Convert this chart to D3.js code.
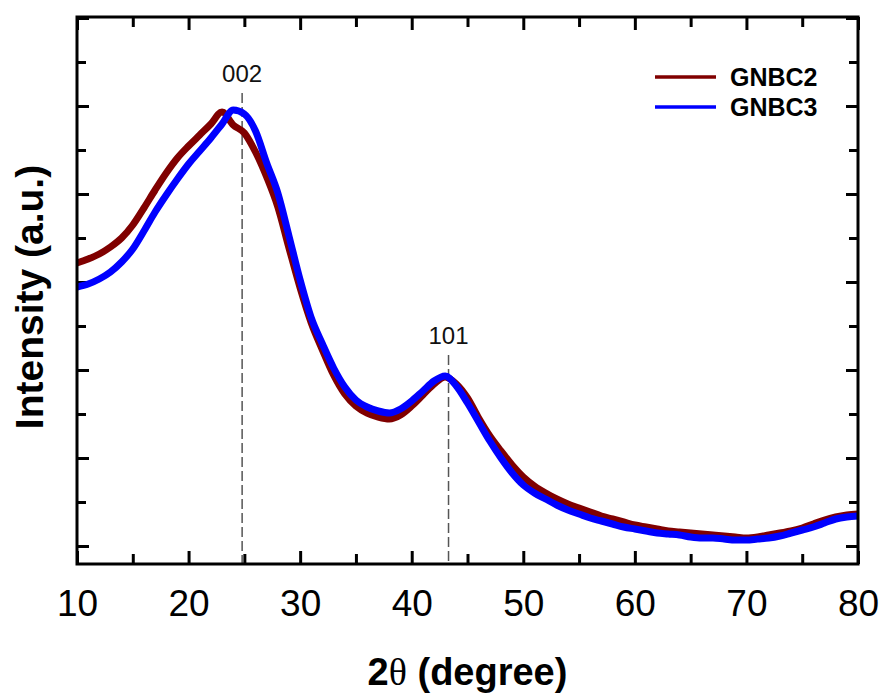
<!DOCTYPE html>
<html>
<head>
<meta charset="utf-8">
<script src="https://cdn.jsdelivr.net/npm/d3@7"></script>
<style>
  body { margin: 0; background: #fff; }
  svg { font-family: "Liberation Sans", Arial, sans-serif; }
</style>
</head>
<body>
<svg width="882" height="693"></svg>
<script>
// 2theta in degrees
var twoTheta = d3.range(10, 81);

// intensity (a.u.)
var gnbc2 = [301, 305, 310, 317, 326, 339, 356, 374, 391, 406,
             418, 429, 440, 452, 439, 431, 412, 387, 357, 316,
             276, 241, 214, 189, 170, 158, 151, 147, 145, 149,
             158, 169, 180, 187, 180, 166, 146, 128, 113, 99,
             87, 78, 71, 65, 60, 56, 52, 48, 45, 42,
             39, 37, 35, 33, 32, 31, 30, 29, 28, 27,
             26, 27, 29, 31, 33, 36, 40, 44, 47, 49, 50];
var gnbc3 = [277, 280, 285, 292, 302, 315, 333, 352, 369, 385,
             400, 413, 426, 440, 454, 450, 433, 401, 371, 328,
             284, 246, 220, 196, 177, 164, 157, 153, 151, 155,
             163, 173, 183, 188, 178, 161, 142, 123, 106, 91,
             79, 71, 65, 59, 54, 50, 46, 43, 40, 37,
             35, 33, 31, 30, 29, 27, 26, 26, 25, 24,
             24, 25, 26, 28, 31, 34, 37, 41, 45, 47, 48];

var seriesNames = ['GNBC2', 'GNBC3'];
var seriesColors = ['#800000', '#0000ff'];

// peak markers
var peakLabels = ['002', '101'];
var peakPos = [24.8, 43.3];
var peakTop = [471, 209];

var xTicks = d3.range(10, 81, 10);
var xMinor = d3.range(15, 80, 10);
var yTicks = d3.range(18, 547, 88);
var yMinor = d3.range(62, 547, 88);

var margin = {top: 17, right: 24, bottom: 129, left: 77};
var width = 882 - margin.left - margin.right,
    height = 693 - margin.top - margin.bottom;

var svg = d3.select('svg');
var g = svg.append('g')
    .attr('transform', 'translate(' + margin.left + ',' + margin.top + ')');

var x = d3.scaleLinear().domain([10, 80]).range([0, width]);
var y = d3.scaleLinear().domain([0, 547]).range([height, 0]);

function styleAxis(sel) {
    sel.select('.domain').remove();
    sel.selectAll('line').attr('stroke', '#000').attr('stroke-width', 3);
}

// bottom axis with labels
g.append('g')
    .attr('transform', 'translate(0,' + height + ')')
    .call(d3.axisBottom(x).tickValues(xTicks).tickSize(-13).tickPadding(26))
    .call(styleAxis)
    .selectAll('text')
    .attr('font-size', 37)
    .attr('font-family', '"Liberation Sans", Arial, sans-serif')
    .attr('fill', '#000');

g.append('g')
    .attr('transform', 'translate(0,' + height + ')')
    .call(d3.axisBottom(x).tickValues(xMinor).tickSize(-10).tickFormat(''))
    .call(styleAxis);

// top axis
g.append('g')
    .call(d3.axisTop(x).tickValues(xTicks).tickSize(-13).tickFormat(''))
    .call(styleAxis);
g.append('g')
    .call(d3.axisTop(x).tickValues(xMinor).tickSize(-10).tickFormat(''))
    .call(styleAxis);

// left + right axes, no labels
g.append('g')
    .call(d3.axisLeft(y).tickValues(yTicks).tickSize(-12).tickFormat(''))
    .call(styleAxis);
g.append('g')
    .call(d3.axisLeft(y).tickValues(yMinor).tickSize(-9).tickFormat(''))
    .call(styleAxis);
g.append('g')
    .attr('transform', 'translate(' + width + ',0)')
    .call(d3.axisRight(y).tickValues(yTicks).tickSize(-12).tickFormat(''))
    .call(styleAxis);
g.append('g')
    .attr('transform', 'translate(' + width + ',0)')
    .call(d3.axisRight(y).tickValues(yMinor).tickSize(-9).tickFormat(''))
    .call(styleAxis);

// peak guide lines
var peaks = peakLabels.map(function(d, i) {
    return {label: d, pos: peakPos[i], top: peakTop[i]};
});

g.selectAll('line.peak')
    .data(peaks)
    .join('line')
    .attr('class', 'peak')
    .attr('x1', function(d) { return x(d.pos); })
    .attr('x2', function(d) { return x(d.pos); })
    .attr('y1', function(d) { return y(d.top); })
    .attr('y2', height)
    .attr('stroke', '#555')
    .attr('stroke-width', 1.5)
    .attr('stroke-dasharray', '10 4');

// curves
var series = seriesNames.map(function(name, i) {
    var vals = i === 0 ? gnbc2 : gnbc3;
    return {
        name: name,
        color: seriesColors[i],
        values: twoTheta.map(function(t, j) { return {x: t, y: vals[j]}; })
    };
});

var line = d3.line()
    .x(function(d) { return x(d.x); })
    .y(function(d) { return y(d.y); })
    .curve(d3.curveMonotoneX);

g.selectAll('path.curve')
    .data(series)
    .join('path')
    .attr('class', 'curve')
    .attr('d', function(d) { return line(d.values); })
    .attr('fill', 'none')
    .attr('stroke', function(d) { return d.color; })
    .attr('stroke-width', 7)
    .attr('stroke-linejoin', 'round');

g.selectAll('text.peak')
    .data(peaks)
    .join('text')
    .attr('class', 'peak')
    .attr('x', function(d) { return x(d.pos); })
    .attr('y', function(d) { return y(d.top) - 11; })
    .attr('text-anchor', 'middle')
    .attr('font-size', 24)
    .attr('fill', '#111')
    .text(function(d) { return d.label; });

// frame
g.append('rect')
    .attr('width', width)
    .attr('height', height)
    .attr('fill', 'none')
    .attr('stroke', '#000')
    .attr('stroke-width', 3);

// legend
var legend = g.append('g').attr('transform', 'translate(578,60)');
var items = legend.selectAll('g')
    .data(series)
    .join('g')
    .attr('transform', function(d, i) { return 'translate(0,' + i * 30 + ')'; });
items.append('line')
    .attr('x1', 0).attr('x2', 61)
    .attr('stroke', function(d) { return d.color; })
    .attr('stroke-width', 3.5);
items.append('text')
    .attr('x', 75)
    .attr('y', 9)
    .attr('font-size', 25)
    .attr('font-weight', 'bold')
    .text(function(d) { return d.name; });

// axis titles
svg.append('text')
    .attr('transform', 'translate(43,297) rotate(-90)')
    .attr('text-anchor', 'middle')
    .attr('font-size', 39)
    .attr('font-weight', 'bold')
    .text('Intensity (a.u.)');

var xt = svg.append('text')
    .attr('x', margin.left + width / 2)
    .attr('y', 685)
    .attr('text-anchor', 'middle')
    .attr('font-size', 38)
    .attr('font-weight', 'bold');
xt.append('tspan').text('2');
xt.append('tspan')
    .attr('font-family', '"Liberation Serif", "Times New Roman", serif')
    .attr('font-weight', 'normal')
    .text('θ');
xt.append('tspan').text(' (degree)');
</script>
</body>
</html>
